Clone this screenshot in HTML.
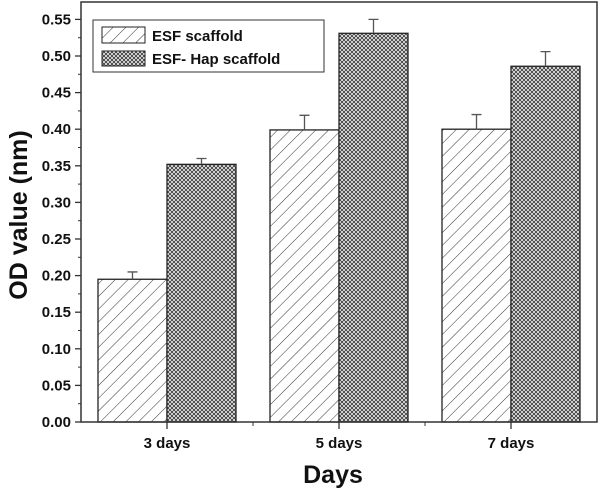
<!DOCTYPE html>
<html><head><meta charset="utf-8"><style>
body{margin:0;background:#fff}
svg text{font-family:"Liberation Sans",Arial,sans-serif;font-weight:bold;fill:#111}
</style></head><body>
<svg id="chart" width="600" height="489" viewBox="0 0 600 489">
<defs>
<pattern id="diag" width="9" height="9" patternUnits="userSpaceOnUse" patternTransform="rotate(45)">
<rect width="9" height="9" fill="#fff"/><line x1="0" y1="0" x2="0" y2="9" stroke="#333" stroke-width="1"/>
</pattern>
<pattern id="cross" width="4" height="4" patternUnits="userSpaceOnUse">
<rect width="4" height="4" fill="#fff"/><path d="M0,0L4,4M4,0L0,4" stroke="#444" stroke-width="1"/>
</pattern>
</defs>
<g id="plot"></g>
<g>
<rect x="93" y="20" width="231" height="52" fill="#fff" stroke="#333" stroke-width="1"/>
<rect x="102" y="27" width="43" height="16" fill="url(#diag)" stroke="#222"/>
<text x="152" y="41" font-size="15">ESF scaffold</text>
<rect x="102" y="51" width="43" height="15" fill="url(#cross)" stroke="#222"/>
<text x="152" y="64" font-size="15">ESF- Hap scaffold</text>
</g>
<text x="333" y="483" font-size="25" text-anchor="middle">Days</text>
<text transform="translate(27,215) rotate(-90)" font-size="25" text-anchor="middle">OD value (nm)</text>
</svg>
<script>
const categories=["3 days","5 days","7 days"];
const esfValues=[0.195,0.399,0.400];
const esfErrors=[0.010,0.020,0.020];
const hapValues=[0.352,0.531,0.486];
const hapErrors=[0.008,0.019,0.020];
const yTicks=[0,0.05,0.10,0.15,0.20,0.25,0.30,0.35,0.40,0.45,0.50,0.55];
const tickLabels=["0.00","0.05","0.10","0.15","0.20","0.25","0.30","0.35","0.40","0.45","0.50","0.55"];

const NS="http://www.w3.org/2000/svg";
const g=document.getElementById('plot');
const L=81,R=597,T=2,B=422,PER=732;
const y=v=>B-v*PER;
const band=(R-L)/categories.length;
const xc=i=>L+band*(i+0.5);
const BW=69;
function mk(tag,attrs){const e=document.createElementNS(NS,tag);for(const k in attrs)e.setAttribute(k,attrs[k]);g.appendChild(e);return e;}

function bars(vals,errs,fill,off,name){
  vals.forEach((v,i)=>{
    const x0=xc(i)+off;
    const r=mk('rect',{x:x0,y:y(v),width:BW,height:B-y(v),fill:fill,stroke:'#222','stroke-width':1.3});
    
    
    const cx=x0+BW/2, top=y(v+errs[i]);
    const e=mk('path',{d:`M${cx},${y(v)}L${cx},${top}M${cx-5},${top}L${cx+5},${top}`,stroke:'#555','stroke-width':1.3,fill:'none'});
    
    
  });
}
bars(esfValues,esfErrors,'url(#diag)',-BW,'esf');
bars(hapValues,hapErrors,'url(#cross)',0,'hap');

const f=mk('rect',{x:L,y:T,width:R-L,height:B-T,fill:'none',stroke:'#333','stroke-width':1.5});



yTicks.forEach((t,i)=>{
  const yy=y(t);
  mk('line',{x1:L-6,x2:L,y1:yy,y2:yy,stroke:'#333','stroke-width':1.3});
  if(i<yTicks.length-1){const ym=y(t+0.025);mk('line',{x1:L-3,x2:L,y1:ym,y2:ym,stroke:'#333','stroke-width':1});}
  const tx=mk('text',{x:L-10,y:yy+5,'font-size':15,'text-anchor':'end'});
  tx.textContent=tickLabels[i];
  
  
});
categories.forEach((c,i)=>{
  mk('line',{x1:xc(i),x2:xc(i),y1:B,y2:B+7,stroke:'#333','stroke-width':1.3});
  if(i>0)mk('line',{x1:L+band*i,x2:L+band*i,y1:B,y2:B+4,stroke:'#333','stroke-width':1});
  const tx=mk('text',{x:xc(i),y:B+26,'font-size':15,'text-anchor':'middle'});
  tx.textContent=c;
  
  
});
</script>
</body></html>
